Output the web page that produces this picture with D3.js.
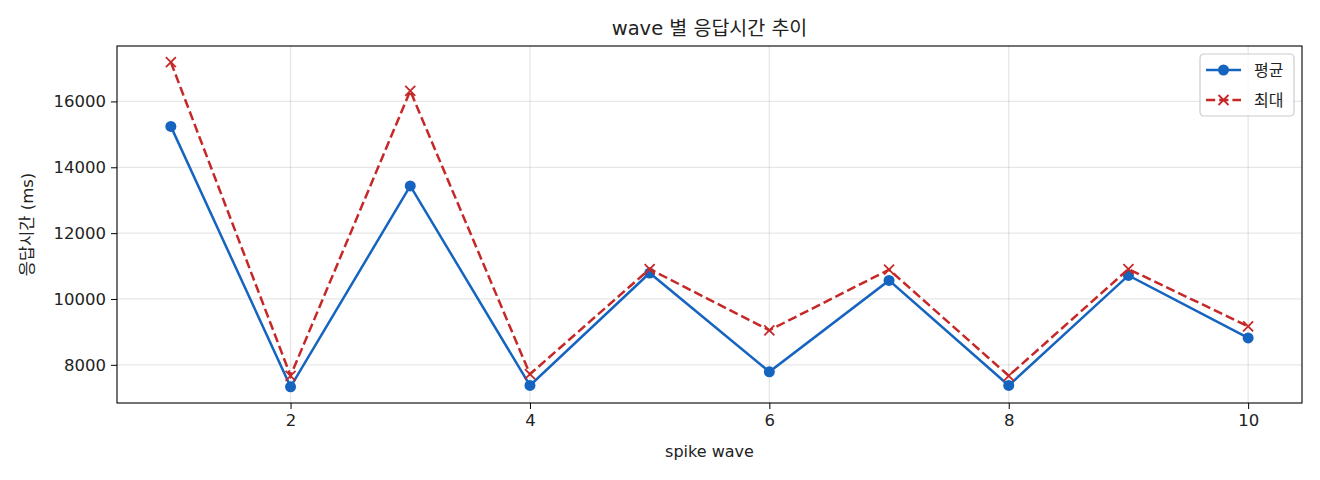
<!DOCTYPE html>
<html>
<head>
<meta charset="utf-8">
<script src="https://cdn.jsdelivr.net/npm/d3@7"></script>
<style>
  body { margin: 0; background: #fff; }
  svg text { font-family: "DejaVu Sans", "Noto Sans CJK KR", sans-serif; fill: #222; }
</style>
</head>
<body>
<div id="chart"></div>
<script>
// data
const waves = [1, 2, 3, 4, 5, 6, 7, 8, 9, 10];
const avgMs = [15242, 7333, 13433, 7373, 10788, 7788, 10564, 7373, 10715, 8818];
const maxMs = [17191, 7667, 16321, 7715, 10909, 9049, 10890, 7667, 10909, 9170];
const xTicks = [2, 4, 6, 8, 10];
const yTicks = [8000, 10000, 12000, 14000, 16000];
const seriesNames = ["평균", "최대"];

const W = 1320, H = 480;
const margin = { top: 46, right: 18, bottom: 77, left: 117 };
const width = W - margin.left - margin.right;
const height = H - margin.top - margin.bottom;

const blue = "#1565C0", red = "#C62828";
const font = "'DejaVu Sans', 'Noto Sans CJK KR', sans-serif";

const svg = d3.select("#chart")
  .append("svg")
  .attr("width", W)
  .attr("height", H);

const g = svg.append("g")
  .attr("transform", `translate(${margin.left}, ${margin.top})`);

// matplotlib style 5% padding
const allVals = avgMs.concat(maxMs);
const yMin = d3.min(allVals), yMax = d3.max(allVals);
const yPad = (yMax - yMin) * 0.05;
const xPad = (d3.max(waves) - d3.min(waves)) * 0.05;

const x = d3.scaleLinear()
  .domain([d3.min(waves) - xPad, d3.max(waves) + xPad])
  .range([0, width]);
const y = d3.scaleLinear()
  .domain([yMin - yPad, yMax + yPad])
  .range([height, 0]);

// grid
g.append("g")
  .selectAll("line")
  .data(xTicks)
  .join("line")
  .attr("x1", d => x(d)).attr("x2", d => x(d))
  .attr("y1", 0).attr("y2", height)
  .attr("stroke", "#b0b0b0").attr("stroke-opacity", 0.3).attr("stroke-width", 1.3);
g.append("g")
  .selectAll("line")
  .data(yTicks)
  .join("line")
  .attr("x1", 0).attr("x2", width)
  .attr("y1", d => y(d)).attr("y2", d => y(d))
  .attr("stroke", "#b0b0b0").attr("stroke-opacity", 0.3).attr("stroke-width", 1.3);

// axes
const xAxis = g.append("g")
  .attr("transform", `translate(0, ${height})`)
  .call(d3.axisBottom(x).tickValues(xTicks).tickFormat(d3.format("d"))
    .tickSize(6).tickPadding(5).tickSizeOuter(0));
const yAxis = g.append("g")
  .call(d3.axisLeft(y).tickValues(yTicks).tickFormat(d3.format("d"))
    .tickSize(6).tickPadding(5).tickSizeOuter(0));
[xAxis, yAxis].forEach(a => {
  a.select(".domain").remove();
  a.selectAll("line").attr("stroke", "#000").attr("stroke-width", 1);
  a.selectAll("text").style("font-size", "16.5px").attr("fill", "#222")
    .style("font-family", font);
});

// frame
g.append("rect")
  .attr("width", width).attr("height", height)
  .attr("fill", "none").attr("stroke", "#000").attr("stroke-width", 1.1);

// lines
const line = d3.line()
  .x(d => x(d[0]))
  .y(d => y(d[1]));

g.append("path")
  .datum(d3.zip(waves, avgMs))
  .attr("d", line)
  .attr("fill", "none").attr("stroke", blue).attr("stroke-width", 2.5);
g.append("g")
  .selectAll("circle")
  .data(d3.zip(waves, avgMs))
  .join("circle")
  .attr("cx", d => x(d[0])).attr("cy", d => y(d[1]))
  .attr("r", 5.5).attr("fill", blue);

g.append("path")
  .datum(d3.zip(waves, maxMs))
  .attr("d", line)
  .attr("fill", "none").attr("stroke", red).attr("stroke-width", 2.5)
  .attr("stroke-dasharray", "9.2,4");

const cross = (sel, s) => sel.append("path")
  .attr("d", `M${-s},${-s}L${s},${s}M${-s},${s}L${s},${-s}`)
  .attr("stroke", red).attr("stroke-width", 1.8).attr("fill", "none");

g.append("g")
  .selectAll("g")
  .data(d3.zip(waves, maxMs))
  .join("g")
  .attr("transform", d => `translate(${x(d[0])}, ${y(d[1])})`)
  .each(function () { cross(d3.select(this), 5); });

// title and labels
svg.append("text")
  .attr("x", margin.left + width / 2).attr("y", 35)
  .attr("text-anchor", "middle")
  .style("font-size", "19.5px")
  .text("wave 별 응답시간 추이");

svg.append("text")
  .attr("x", margin.left + width / 2).attr("y", 457)
  .attr("text-anchor", "middle")
  .style("font-size", "16px")
  .text("spike wave");

svg.append("text")
  .attr("transform", `translate(33, ${margin.top + height / 2}) rotate(-90)`)
  .attr("text-anchor", "middle")
  .style("font-size", "16.5px")
  .text("응답시간 (ms)");

// legend
const legend = svg.append("g").attr("transform", "translate(1200, 54)");
legend.append("rect")
  .attr("width", 94).attr("height", 62).attr("rx", 4)
  .attr("fill", "#fff").attr("fill-opacity", 0.8)
  .attr("stroke", "#ccc").attr("stroke-width", 1.2);

const items = legend.selectAll("g.item")
  .data(seriesNames)
  .join("g")
  .attr("class", "item")
  .attr("transform", (d, i) => `translate(0, ${16 + i * 30})`);

items.append("line")
  .attr("x1", 6).attr("x2", 41)
  .attr("stroke", (d, i) => i === 0 ? blue : red)
  .attr("stroke-width", 2.5)
  .attr("stroke-dasharray", (d, i) => i === 0 ? null : "9.2,4");
items.filter((d, i) => i === 0).append("circle")
  .attr("cx", 23.5).attr("r", 5.5).attr("fill", blue);
items.filter((d, i) => i === 1).append("g")
  .attr("transform", "translate(23.5, 0)")
  .each(function () { cross(d3.select(this), 5); });
items.append("text")
  .attr("x", 54).attr("dy", "0.35em")
  .style("font-size", "16px")
  .text(d => d);
</script>
</body>
</html>
